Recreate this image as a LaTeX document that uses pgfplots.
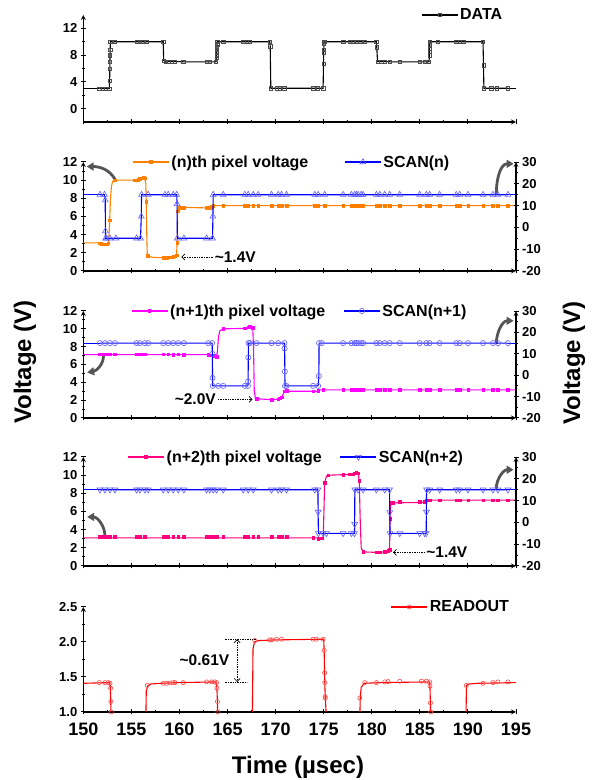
\documentclass[border=0pt]{standalone}
\usepackage{fontspec}
\setmainfont{Liberation Sans}
\usepackage{pgfplots}
\pgfplotsset{compat=1.18}
\usetikzlibrary{arrows.meta}

\definecolor{dorange}{RGB}{255,128,0}
\definecolor{dmag}{RGB}{255,0,255}
\definecolor{dpink}{RGB}{255,0,128}
\definecolor{dblue}{RGB}{0,0,255}
\definecolor{mblue}{RGB}{95,95,255}
\definecolor{dred}{RGB}{255,0,0}
\definecolor{agray}{RGB}{85,85,85}

\newcommand\tickfont{\bfseries\fontsize{13}{13}\selectfont}
\newcommand\xtickfont{\bfseries\fontsize{18}{18}\selectfont}
\newcommand\legfont{\bfseries\fontsize{16}{16}\selectfont}
\newcommand\labfont{\bfseries\fontsize{24}{24}\selectfont}
\newcommand\annfont{\bfseries\fontsize{15.5}{16}\selectfont}

\tikzset{
  arr/.style={-{Triangle[length=7pt,width=8pt]}, line width=2.8pt, agray},
  dotarr/.style={densely dotted, line width=0.7pt, -{Straight Barb[length=3pt]}},
}

\pgfplotsset{
  base/.style={
    scale only axis, width=432.7pt, xmin=150, xmax=195,
    axis line style={-, line width=1.2pt},
    tick align=outside, major tick length=5pt, minor tick length=3pt,
    every tick/.style={black, line width=1pt},
    tick label style={font=\tickfont},
    /pgf/number format/assume math mode=true,
    legend style={draw=none, fill=none, font=\legfont, inner sep=0pt},
    legend cell align=left,
    legend image code/.code={\draw[mark repeat=2,mark phase=2,##1] plot coordinates {(0pt,0pt)(18pt,0pt)(36pt,0pt)};},
  },
  panel/.style={base, axis x line=bottom, axis y line=left,
    xtick={150,155,...,195}, minor x tick num=1, minor y tick num=1},
  rpanel/.style={base, axis x line=none, axis y line=right,
    ymin=-20, ymax=30, ytick={-20,-10,...,30}, minor y tick num=1},
  pix/.style={line width=1.1pt, no marks},
  pixm/.style={only marks, mark=square*, mark size=1.3pt},
  scanl/.style={dblue, line width=1.1pt},
  triup/.style={scanl, mark=triangle, mark size=3.4pt, mark options={draw=mblue, fill=white, line width=0.6pt, solid}},
  tridn/.style={scanl, mark=triangle, mark size=3.4pt, mark options={draw=mblue, fill=white, line width=0.6pt, solid, rotate=180}},
  circ/.style={scanl, mark=o, mark size=2.6pt, mark options={draw=mblue, fill=white, line width=0.6pt, solid}},
}

\begin{document}
\begin{tikzpicture}
\useasboundingbox (0,0) rectangle (597pt,780pt);

% ---------- Panel 1: DATA ----------
\begin{axis}[panel, at={(83.3pt,658pt)}, anchor=south west, height=107pt,
  ymin=-2, ymax=14, ytick={0,4,8,12}, xticklabels={},
  legend style={at={(0.78,1)}, anchor=west}]
\addplot[forget plot, black, line width=1.1pt] coordinates {(150,3)(151.66,3)};
\addplot[forget plot, black, line width=1.1pt] coordinates {(194.16,3.05)(195,3.05)};
\addplot[forget plot, black, line width=1.1pt, mark=square, mark size=1.7pt, mark options={fill=white, draw=black!70, line width=0.5pt}] coordinates {
(151.66,3)(152.0,3)(152.36,3)(152.7,3)(152.74,4.2)(152.76,6)(152.77,7)(152.78,8)(152.79,8.8)(152.82,10)
(153.29,10)(155.54,10)(155.89,10)(156.15,10)(156.6,10)(158.31,10)(158.36,7.2)(158.55,7.05)(158.85,7.05)(159.2,7.05)
(159.5,7.05)(160.4,7)(162.82,7)(163.16,7)(163.8,7)(163.86,7.6)(163.87,8)(163.88,8.4)(163.89,8.8)(163.9,9.2)
(163.91,9.6)(163.93,10)(164.55,10)(166.63,10)(166.97,10)(167.32,10)(169.4,10)(169.44,9.3)(169.5,3.05)(170.09,3.05)
(170.44,3.05)(170.9,3.05)(173.9,3.05)(174.4,3.05)(174.94,3.05)(174.98,6.7)(175.0,8.4)(175.01,8.8)(175.02,9.8)(175.05,10)
(177.02,10)(177.71,10)(178.06,10)(178.4,10)(178.8,10)(179.27,10)(180.48,10)(180.52,9.2)(180.6,7.05)(181.0,7.05)
(181.35,7.05)(181.87,7)(182.91,7)(184.98,7)(185.5,7)(185.95,7)(186.0,8)(186.01,8.5)(186.02,9)(186.03,9.5)
(186.05,10)(186.89,10)(188.79,10)(189.14,10)(189.5,10)(191.57,10)(191.62,6.5)(191.66,3.05)(192.43,3.05)(193.0,3.05)(194.16,3.05)};
\addlegendimage{black, line width=1.1pt, mark=square, mark size=1.7pt, mark options={fill=white, draw=black!70, line width=0.5pt}}
\addlegendentry{DATA}
\end{axis}

% ---------- Panel 2: (n)th pixel / SCAN(n) ----------
\begin{axis}[panel, at={(83.3pt,509pt)}, anchor=south west, height=109pt,
  ymin=0, ymax=12, ytick={0,2,...,12}, xticklabels={}, clip=false]
\addplot[pix, dorange, forget plot] coordinates {
(150,3.1)(151.6,3.1)(151.9,3.0)(152.1,2.95)(152.4,2.95)(152.6,3.0)(152.68,4.0)(152.74,5.6)(152.82,7.8)(152.92,9.3)
(153.05,9.85)(153.3,10.0)(155.4,10.0)(155.7,10.05)(156.0,10.15)(156.4,10.25)(156.5,9.6)(156.55,7.6)(156.6,4.0)(156.65,1.9)
(156.75,1.65)(157.2,1.5)(158.5,1.45)(159.0,1.5)(159.4,1.6)(159.7,1.75)(159.76,3.1)(159.82,6.6)(159.9,6.95)(160.1,7.0)
(162.8,6.95)(163.4,7.0)(163.45,7.2)(195,7.2)};
\addplot[pixm, dorange, forget plot] coordinates {
(151.7,3.05)(151.85,3.0)(152.0,2.95)(152.15,2.95)(152.3,2.95)(152.45,2.95)(152.6,3.05)(152.74,5.6)(153.29,10.0)(155.37,10.0)
(155.54,10.0)(155.72,10.05)(155.89,10.15)(156.1,10.2)(156.3,10.3)(156.41,10.2)(156.55,7.6)(156.68,1.7)(158.31,1.45)(158.66,1.45)
(159.0,1.5)(159.35,1.6)(159.53,1.65)(159.7,1.75)(159.76,3.1)(159.82,6.6)(160.04,7.0)(160.46,7.0)(162.82,6.95)(163.16,7.0)
(163.34,7.05)(163.51,7.2)(164.55,7.2)(166.8,7.2)(167.15,7.2)(167.67,7.2)(168.18,7.2)(169.57,7.2)(170.26,7.2)(170.61,7.2)
(171.13,7.2)(174.07,7.2)(174.42,7.2)(175.11,7.2)(177.02,7.2)(177.88,7.2)(178.23,7.2)(178.4,7.2)(178.58,7.2)(178.9,7.2)
(179.1,7.2)(180.48,7.2)(180.83,7.2)(181.35,7.2)(181.87,7.2)(182.91,7.2)(184.98,7.2)(185.68,7.2)(186.02,7.2)(187.06,7.2)
(188.79,7.2)(189.14,7.2)(190.01,7.2)(191.57,7.2)(192.6,7.2)(193.12,7.2)(194.16,7.2)};
\draw[arr] (axis cs:153.3,10.1) to[out=120,in=0] (axis cs:150.35,11.5);
\draw[arr] (axis cs:192.95,8.5) to[out=90,in=180] (axis cs:194.75,11.8);
\draw[dotarr] (axis cs:163.5,1.55) -- (axis cs:160.2,1.55);
\node[anchor=west, font=\annfont, inner sep=1pt] at (axis cs:163.55,1.55) {\textasciitilde1.4V};
\end{axis}
\begin{axis}[rpanel, at={(83.3pt,509pt)}, anchor=south west, height=109pt,
  legend style={at={(0.113,1)}, anchor=west, legend columns=2,
  /tikz/every even column/.append style={column sep=34pt}}]
\addplot[forget plot, scanl] coordinates {(150,15)(151.73,15)};
\addplot[forget plot, scanl] coordinates {(194.16,15)(195,15)};
\addplot[forget plot, triup] coordinates {
(151.73,15)(152.2,15)(152.28,12.5)(152.3,-1.7)(152.32,-5)(152.42,-5)(152.77,-5)(153.39,-5)(155.54,-5)(155.95,-5)
(156.03,5)(156.06,15)(156.75,15)(158.49,15)(158.83,15)(159.35,15)(159.72,15)(159.75,10.8)(159.78,-5)(160.46,-5)
(162.82,-5)(163.44,-5)(163.48,5)(163.51,15)(164.55,15)(166.8,15)(167.15,15)(167.67,15)(168.18,15)(169.57,15)
(170.26,15)(170.61,15)(171.13,15)(174.07,15)(174.42,15)(175.11,15)(177.02,15)(177.88,15)(178.23,15)(178.4,15)
(178.58,15)(178.9,15)(179.1,15)(180.48,15)(180.83,15)(181.35,15)(181.87,15)(182.91,15)(184.98,15)(185.68,15)
(186.02,15)(187.06,15)(188.79,15)(189.14,15)(190.01,15)(191.57,15)(192.6,15)(193.12,15)(194.16,15)};
\addlegendimage{dorange, line width=1.1pt, mark=square*, mark size=1.3pt}
\addlegendentry{(n)th pixel voltage}
\addlegendimage{triup}
\addlegendentry{SCAN(n)}
\end{axis}

% ---------- Panel 3: (n+1)th pixel / SCAN(n+1) ----------
\begin{axis}[panel, at={(83.3pt,362pt)}, anchor=south west, height=107pt,
  ymin=0, ymax=12, ytick={0,2,...,12}, xticklabels={}, clip=false]
\addplot[pix, dmag, forget plot] coordinates {
(150,7.1)(163.5,7.1)(163.75,7.0)(163.86,6.9)(163.95,7.5)(164.05,9.0)(164.2,9.8)(164.55,10.0)(166.8,10.05)(167.15,10.2)
(167.5,10.25)(167.62,10.1)(167.7,8.0)(167.78,3.0)(167.9,2.2)(168.2,2.15)(169.6,2.05)(170.26,2.1)(170.6,2.3)(170.8,2.7)
(170.96,3.0)(174.4,3.0)(174.55,3.15)(195,3.15)};
\addplot[pixm, dmag, forget plot] coordinates {
(151.73,7.15)(151.9,7.15)(152.07,7.15)(152.25,7.15)(152.42,7.15)(152.6,7.15)(152.77,7.15)(153.29,7.15)(155.54,7.15)(155.89,7.15)
(156.23,7.15)(156.41,7.15)(158.31,7.15)(158.83,7.15)(159.35,7.1)(159.87,7.15)(160.46,7.1)(162.99,7.1)(163.34,7.05)(163.68,7.0)
(163.86,6.9)(164.55,10.0)(166.8,10.05)(167.15,10.2)(167.32,10.25)(167.5,10.2)(167.62,10.1)(168.01,2.15)(169.57,2.05)(170.26,2.1)
(170.44,2.2)(170.61,2.35)(170.96,3.0)(171.13,3.05)(173.9,3.0)(174.42,3.05)(174.94,3.15)(177.02,3.15)(177.88,3.15)(178.23,3.15)
(178.4,3.15)(178.58,3.15)(178.9,3.15)(179.1,3.15)(180.48,3.15)(180.83,3.15)(181.35,3.15)(181.87,3.15)(182.91,3.15)(184.98,3.15)
(185.68,3.15)(186.02,3.15)(187.06,3.15)(188.79,3.15)(189.14,3.15)(190.01,3.15)(191.57,3.15)(192.6,3.15)(193.12,3.15)(194.16,3.15)};
\draw[arr] (axis cs:152.1,7.0) to[out=-90,in=10] (axis cs:150.4,5.1);
\draw[arr] (axis cs:192.95,8.3) to[out=90,in=180] (axis cs:194.75,10.9);
\draw[dotarr] (axis cs:164.0,2.08) -- (axis cs:167.6,2.08);
\node[anchor=east, font=\annfont, inner sep=1pt] at (axis cs:163.9,2.08) {\textasciitilde2.0V};
\end{axis}
\begin{axis}[rpanel, at={(83.3pt,362pt)}, anchor=south west, height=107pt,
  legend style={at={(0.11,1)}, anchor=west, legend columns=2,
  /tikz/every even column/.append style={column sep=16pt}}]
\addplot[forget plot, scanl] coordinates {(150,15)(151.73,15)};
\addplot[forget plot, scanl] coordinates {(194.16,15)(195,15)};
\addplot[forget plot, circ] coordinates {
(151.73,15)(152.25,15)(152.77,15)(153.29,15)(155.54,15)(155.89,15)(156.41,15)(156.75,15)(158.31,15)(158.83,15)
(159.35,15)(159.87,15)(160.46,15)(162.99,15)(163.4,15)(163.42,10)(163.44,-1.25)(163.46,-5)(164.03,-5)(164.55,-5)
(166.8,-5)(167.12,-5)(167.14,-2.9)(167.16,8.3)(167.18,15)(167.32,15)(168.01,15)(169.57,15)(170.26,15)(170.92,15)
(170.94,12.5)(170.96,1.7)(170.98,-5)(171.13,-5)(173.9,-5)(174.42,-5)(174.5,-0.4)(174.52,15)(174.8,15)(177.02,15)
(177.88,15)(178.23,15)(178.4,15)(178.58,15)(178.9,15)(179.1,15)(180.48,15)(180.83,15)(181.35,15)(181.87,15)
(182.91,15)(184.98,15)(185.68,15)(186.02,15)(187.06,15)(188.79,15)(189.14,15)(190.01,15)(191.57,15)(192.6,15)
(193.12,15)(194.16,15)};
\addlegendimage{dmag, line width=1.1pt, mark=square*, mark size=1.3pt}
\addlegendentry{(n+1)th pixel voltage}
\addlegendimage{circ}
\addlegendentry{SCAN(n+1)}
\end{axis}

% ---------- Panel 4: (n+2)th pixel / SCAN(n+2) ----------
\begin{axis}[panel, at={(83.3pt,214pt)}, anchor=south west, height=109pt,
  ymin=0, ymax=12, ytick={0,2,...,12}, xticklabels={}, clip=false]
\addplot[pix, dpink, forget plot] coordinates {
(150,3.1)(174.8,3.1)(174.95,3.0)(175.0,5.0)(175.1,9.2)(175.3,9.9)(175.5,10.0)(177.02,10.05)(178.0,10.1)(178.4,10.25)
(178.6,10.2)(178.7,9.3)(178.8,5)(178.9,2.0)(179.1,1.55)(180.5,1.5)(181.35,1.55)(181.7,1.7)(181.85,1.8)(181.9,5.2)
(181.95,6.6)(182.05,6.95)(185.5,7.0)(185.65,7.25)(195,7.25)};
\addplot[pixm, dpink, forget plot] coordinates {
(151.73,3.2)(151.9,3.2)(152.07,3.2)(152.25,3.2)(152.42,3.2)(152.6,3.2)(152.77,3.2)(153.29,3.2)(155.54,3.2)(155.72,3.2)
(155.89,3.2)(156.41,3.2)(158.31,3.2)(158.66,3.2)(158.83,3.2)(159.35,3.2)(159.87,3.2)(160.46,3.2)(162.82,3.2)(163.0,3.2)
(163.2,3.2)(163.51,3.2)(163.86,3.2)(164.55,3.2)(166.8,3.2)(167.15,3.2)(167.67,3.2)(168.18,3.2)(169.57,3.2)(170.26,3.2)
(170.61,3.2)(171.13,3.2)(173.9,3.1)(174.42,3.0)(174.8,3.05)(175.11,9.2)(175.46,10.0)(177.02,10.05)(177.71,10.1)(178.06,10.1)
(178.23,10.2)(178.4,10.25)(178.58,10.2)(178.68,9.4)(179.1,1.55)(180.48,1.5)(180.83,1.5)(181.35,1.55)(181.69,1.7)(181.85,1.8)
(181.9,5.2)(182.04,6.95)(182.21,7.0)(182.91,7.05)(184.98,7.05)(185.5,7.05)(185.68,7.25)(186.02,7.25)(187.06,7.25)(188.79,7.25)
(189.14,7.25)(190.01,7.25)(191.57,7.25)(192.6,7.25)(193.12,7.25)(194.16,7.25)};
\draw[arr] (axis cs:152.25,3.3) to[out=90,in=0] (axis cs:150.4,5.4);
\draw[arr] (axis cs:192.95,8.5) to[out=90,in=180] (axis cs:194.75,10.6);
\draw[dotarr] (axis cs:185.5,1.5) -- (axis cs:182.2,1.5);
\node[anchor=west, font=\annfont, inner sep=1pt] at (axis cs:185.55,1.5) {\textasciitilde1.4V};
\end{axis}
\begin{axis}[rpanel, at={(83.3pt,214pt)}, anchor=south west, height=109pt,
  legend style={at={(0.102,1)}, anchor=west, legend columns=2,
  /tikz/every even column/.append style={column sep=16pt}}]
\addplot[forget plot, scanl] coordinates {(150,15)(151.73,15)};
\addplot[forget plot, scanl] coordinates {(194.16,15)(195,15)};
\addplot[forget plot, tridn] coordinates {
(151.73,15)(152.25,15)(152.77,15)(153.29,15)(155.54,15)(155.89,15)(156.41,15)(156.75,15)(158.31,15)(158.83,15)
(159.35,15)(159.87,15)(160.46,15)(162.82,15)(163.16,15)(163.51,15)(163.86,15)(164.55,15)(166.63,15)(167.15,15)
(167.67,15)(169.57,15)(170.26,15)(170.61,15)(171.13,15)(174.07,15)(174.4,15)(174.42,4.8)(174.45,-5)(174.94,-5)
(175.29,-5)(177.02,-5)(177.88,-5)(178.2,-5)(178.22,-0.8)(178.24,15)(178.58,15)(179.1,15)(180.48,15)(181.35,15)
(181.85,15)(181.87,4.6)(181.9,-5)(182.91,-5)(184.98,-5)(185.5,-5)(185.66,-5)(185.68,4.8)(185.7,15)(186.02,15)
(187.06,15)(188.79,15)(189.14,15)(190.01,15)(191.57,15)(192.6,15)(193.12,15)(194.16,15)};
\addlegendimage{dpink, line width=1.1pt, mark=square*, mark size=1.3pt}
\addlegendentry{(n+2)th pixel voltage}
\addlegendimage{tridn}
\addlegendentry{SCAN(n+2)}
\end{axis}

% ---------- Panel 5: READOUT ----------
\begin{axis}[panel, at={(83.3pt,68pt)}, anchor=south west, height=105pt,
  ymin=1, ymax=2.5, ytick={1,1.5,2,2.5},
  yticklabel style={/pgf/number format/fixed, /pgf/number format/fixed zerofill, /pgf/number format/precision=1},
  xticklabel style={font=\xtickfont, yshift=-5pt},
  legend style={at={(0.71,1)}, anchor=west}]
\addplot[forget plot, dred, line width=1.1pt] coordinates {
(150,1.41)(152.7,1.42)(152.8,1.38)(152.85,1.2)(152.92,0.5)(156.45,0.5)(156.55,1.3)(156.7,1.37)(157.0,1.40)(158.0,1.41)
(160,1.42)(163.8,1.43)(163.88,1.38)(163.95,1.15)(164.02,0.5)(167.55,0.5)(167.65,1.9)(167.8,2.0)(168.2,2.02)(170,2.03)
(175.0,2.04)(175.05,1.88)(175.1,1.5)(175.15,1.25)(175.25,1.0)(175.3,0.5)(178.7,0.5)(178.8,1.2)(178.9,1.35)(179.2,1.41)
(181,1.42)(186.0,1.43)(186.05,1.37)(186.1,1.12)(186.15,0.5)(189.75,0.5)(189.85,1.38)(190.1,1.40)(191,1.41)(195,1.42)};
\addplot[forget plot, only marks, mark=o, mark size=2.1pt, mark options={draw=dred!70, fill=white, line width=0.6pt}] coordinates {
(151.66,1.42)(152.25,1.42)(152.6,1.42)(152.77,1.41)(152.84,1.34)(152.87,1.15)(152.9,1.0)(156.65,1.38)(158.31,1.41)(158.66,1.41)
(159.0,1.415)(159.35,1.42)(159.53,1.42)(160.39,1.42)(162.82,1.43)(163.34,1.43)(163.68,1.43)(163.86,1.42)(163.9,1.34)(163.95,1.15)
(164.0,1.0)(167.84,2.02)(169.4,2.03)(169.6,2.03)(170.09,2.04)(170.6,2.04)(173.9,2.04)(174.24,2.04)(174.94,2.04)(175.05,1.88)
(175.1,1.56)(175.12,1.42)(175.15,1.22)(175.17,1.2)(178.75,1.2)(179.27,1.42)(180.48,1.42)(181.35,1.43)(181.69,1.435)(182.91,1.44)
(185.16,1.44)(185.68,1.44)(186.02,1.43)(186.05,1.37)(186.1,1.13)(186.13,1.0)(189.83,1.38)(191.57,1.41)(192.6,1.42)(193.12,1.43)(194.16,1.43)};
\addlegendimage{dred, line width=1.1pt, mark=o, mark size=2.1pt, mark options={draw=dred!70, fill=white, line width=0.6pt}}
\addlegendentry{READOUT}
\draw[densely dotted, line width=0.7pt] (axis cs:164.7,2.04) -- (axis cs:168.0,2.04);
\draw[densely dotted, line width=0.7pt] (axis cs:164.7,1.43) -- (axis cs:167.0,1.43);
\draw[densely dotted, line width=0.7pt, {Straight Barb[length=3pt]}-{Straight Barb[length=3pt]}] (axis cs:166.0,2.04) -- (axis cs:166.0,1.43);
\node[font=\annfont] at (axis cs:162.6,1.74) {\textasciitilde0.61V};
\end{axis}

\node[rotate=90, font=\labfont] at (25pt,418pt) {Voltage (V)};
\node[rotate=90, font=\labfont] at (574pt,417pt) {Voltage (V)};
\node[font=\labfont, anchor=base] at (298pt,6pt) {Time (µsec)};
\end{tikzpicture}
\end{document}
